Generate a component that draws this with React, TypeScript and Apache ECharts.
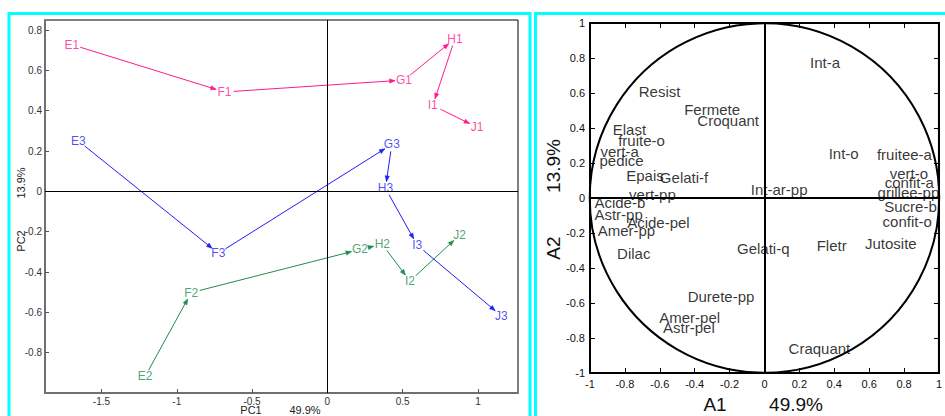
import { useEffect, useRef } from 'react';
import * as echarts from 'echarts';

const FONT = '"Liberation Sans", Arial, Helvetica, sans-serif';

// ---- Left panel: PCA trajectories ----
const traj1Labels = ['E1', 'F1', 'G1', 'H1', 'I1', 'J1'];
const traj1X = [-1.697, -0.683, 0.509, 0.847, 0.7, 0.995];
const traj1Y = [0.728, 0.493, 0.552, 0.757, 0.426, 0.318];

const traj2Labels = ['E2', 'F2', 'G2', 'H2', 'I2', 'J2'];
const traj2X = [-1.21, -0.904, 0.217, 0.365, 0.548, 0.878];
const traj2Y = [-0.918, -0.502, -0.288, -0.263, -0.445, -0.217];

const traj3Labels = ['E3', 'F3', 'G3', 'H3', 'I3', 'J3'];
const traj3X = [-1.653, -0.724, 0.428, 0.386, 0.597, 1.155];
const traj3Y = [0.25, -0.307, 0.233, 0.015, -0.267, -0.617];

const pcXTicks = [-1.5, -1, -0.5, 0, 0.5, 1];
const pcYTicks = [-0.8, -0.6, -0.4, -0.2, 0, 0.2, 0.4, 0.6, 0.8];

// ---- Right panel: correlation circle ----
const varNames = [
  'Int-a', 'Resist', 'Fermete', 'Croquant', 'Elast', 'fruite-o', 'vert-a', 'pedice',
  'Epais', 'Gelati-f', 'vert-pp', 'Int-ar-pp', 'Int-o', 'fruitee-a', 'vert-o', 'confit-a',
  'grillee-pp', 'Sucre-b', 'confit-o', 'Acide-b', 'Astr-pp', 'Acide-pel', 'Amer-pp', 'Dilac',
  'Gelati-q', 'Fletr', 'Jutosite', 'Durete-pp', 'Amer-pel', 'Astr-pel', 'Craquant',
];
const varA1 = [
  0.347, -0.601, -0.3, -0.208, -0.774, -0.705, -0.83, -0.819,
  -0.685, -0.461, -0.642, 0.084, 0.454, 0.802, 0.828, 0.83,
  0.825, 0.837, 0.818, -0.829, -0.836, -0.608, -0.791, -0.749,
  -0.007, 0.385, 0.724, -0.249, -0.429, -0.433, 0.315,
];
const varA2 = [
  0.773, 0.609, 0.504, 0.444, 0.393, 0.331, 0.267, 0.213,
  0.13, 0.118, 0.021, 0.047, 0.253, 0.248, 0.138, 0.087,
  0.03, -0.047, -0.136, -0.027, -0.093, -0.142, -0.186, -0.318,
  -0.289, -0.273, -0.262, -0.562, -0.68, -0.739, -0.861,
];

const PINK = '#FF1A8C';
const GREEN = '#1E8C4E';
const BLUE = '#1F1FF5';
const CYAN = '#00FFFF';

function segments(xs: number[], ys: number[]) {
  const out: number[][] = [];
  for (let i = 0; i < xs.length - 1; i++) out.push([xs[i], ys[i], xs[i + 1], ys[i + 1]]);
  return out;
}

function arrowRenderer(color: string) {
  return (_params: any, api: any) => {
    const p1 = api.coord([api.value(0), api.value(1)]);
    const p2 = api.coord([api.value(2), api.value(3)]);
    const dx = p2[0] - p1[0];
    const dy = p2[1] - p1[1];
    const len = Math.hypot(dx, dy) || 1;
    const ux = dx / len;
    const uy = dy / len;
    const rx = 9;
    const ry = 7;
    const s = 1 / Math.sqrt((ux / rx) ** 2 + (uy / ry) ** 2);
    const a = [p1[0] + ux * s, p1[1] + uy * s];
    const b = [p2[0] - ux * s, p2[1] - uy * s];
    const hl = 5.5;
    const hw = 2.2;
    const base = [b[0] - ux * hl, b[1] - uy * hl];
    const nx = -uy;
    const ny = ux;
    return {
      type: 'group',
      children: [
        {
          type: 'line',
          shape: { x1: a[0], y1: a[1], x2: b[0], y2: b[1] },
          style: { stroke: color, lineWidth: 1 },
        },
        {
          type: 'polygon',
          shape: {
            points: [
              b,
              [base[0] + nx * hw, base[1] + ny * hw],
              [base[0] - nx * hw, base[1] - ny * hw],
            ],
          },
          style: { fill: color, stroke: color, lineWidth: 0.5 },
        },
      ],
    };
  };
}

function arrowSeries(xs: number[], ys: number[], color: string) {
  return {
    type: 'custom',
    xAxisIndex: 0,
    yAxisIndex: 0,
    renderItem: arrowRenderer(color),
    encode: { x: [0, 2], y: [1, 3] },
    data: segments(xs, ys),
    silent: true,
    z: 3,
  };
}

function labelSeries(names: string[], xs: number[], ys: number[], color: string, extra: any = {}) {
  return {
    type: 'scatter',
    xAxisIndex: 0,
    yAxisIndex: 0,
    symbolSize: 0,
    silent: true,
    z: 4,
    data: names.map((n, i) => ({ name: n, value: [xs[i], ys[i]] })),
    label: {
      show: true,
      position: 'inside',
      formatter: '{b}',
      color,
      fontSize: 12,
      fontFamily: FONT,
    },
    ...extra,
  };
}

export default function App() {
  const ref = useRef<HTMLDivElement>(null);

  useEffect(() => {
    if (!ref.current) return;
    const chart = echarts.init(ref.current, undefined, { renderer: 'svg' });

    const leftAxisCommon = {
      axisLine: { show: true, onZero: false, lineStyle: { color: '#707070', width: 2 } },
      splitLine: { show: false },
    };

    const option: any = {
      animation: false,
      backgroundColor: '#ffffff',
      grid: [
        { left: 45, top: 20, width: 473, height: 373, show: true, borderColor: '#000', borderWidth: 1, backgroundColor: 'transparent' },
        { left: 590, top: 23, width: 352, height: 350, show: true, borderColor: '#000', borderWidth: 2, backgroundColor: 'transparent' },
      ],
      xAxis: [
        {
          gridIndex: 0,
          type: 'value',
          min: -1.875,
          max: 1.266,
          ...leftAxisCommon,
          axisTick: { show: true, inside: true, length: 4, customValues: pcXTicks, lineStyle: { color: '#555' } },
          axisLabel: { customValues: pcXTicks, fontSize: 10, color: '#333', margin: 3, fontFamily: FONT },
        },
        {
          gridIndex: 1,
          type: 'value',
          min: -1,
          max: 1,
          interval: 0.2,
          axisLine: { show: true, onZero: false, lineStyle: { color: '#000', width: 2 } },
          axisTick: { show: true, inside: true, length: 5, lineStyle: { color: '#000' } },
          axisLabel: { fontSize: 11, color: '#111', margin: 5, fontFamily: FONT },
          splitLine: { show: false },
        },
        {
          gridIndex: 1,
          type: 'value',
          position: 'top',
          min: -1,
          max: 1,
          interval: 0.2,
          axisLine: { show: true, onZero: false, lineStyle: { color: '#000', width: 2 } },
          axisTick: { show: true, inside: true, length: 5, lineStyle: { color: '#000' } },
          axisLabel: { show: false },
          splitLine: { show: false },
        },
      ],
      yAxis: [
        {
          gridIndex: 0,
          type: 'value',
          min: -1,
          max: 0.85,
          ...leftAxisCommon,
          axisTick: { show: true, inside: true, length: 4, customValues: pcYTicks, lineStyle: { color: '#555' } },
          axisLabel: { customValues: pcYTicks, fontSize: 10, color: '#333', margin: 3, fontFamily: FONT },
        },
        {
          gridIndex: 1,
          type: 'value',
          min: -1,
          max: 1,
          interval: 0.2,
          axisLine: { show: true, onZero: false, lineStyle: { color: '#000', width: 2 } },
          axisTick: { show: true, inside: true, length: 5, lineStyle: { color: '#000' } },
          axisLabel: { fontSize: 11, color: '#111', margin: 5, fontFamily: FONT },
          splitLine: { show: false },
        },
        {
          gridIndex: 1,
          type: 'value',
          position: 'right',
          min: -1,
          max: 1,
          interval: 0.2,
          axisLine: { show: true, onZero: false, lineStyle: { color: '#000', width: 2 } },
          axisTick: { show: true, inside: true, length: 5, lineStyle: { color: '#000' } },
          axisLabel: { show: false },
          splitLine: { show: false },
        },
      ],
      series: [
        labelSeries([], [], [], '#000', {
          markLine: {
            silent: true,
            symbol: 'none',
            label: { show: false },
            lineStyle: { color: '#000', width: 1, type: 'solid' },
            data: [{ xAxis: 0 }, { yAxis: 0 }],
          },
          z: 2,
        }),
        arrowSeries(traj1X, traj1Y, PINK),
        arrowSeries(traj2X, traj2Y, GREEN),
        arrowSeries(traj3X, traj3Y, BLUE),
        labelSeries(traj1Labels, traj1X, traj1Y, PINK),
        labelSeries(traj2Labels, traj2X, traj2Y, GREEN),
        labelSeries(traj3Labels, traj3X, traj3Y, BLUE),
        {
          type: 'custom',
          xAxisIndex: 1,
          yAxisIndex: 1,
          silent: true,
          clip: false,
          data: [[0, 0]],
          renderItem: (_p: any, api: any) => {
            const c = api.coord([0, 0]);
            const s = api.size([1, 1]);
            return {
              type: 'circle',
              shape: { cx: c[0], cy: c[1], r: (s[0] + s[1]) / 2 },
              style: { fill: 'none', stroke: '#000', lineWidth: 2 },
            };
          },
          z: 2,
        },
        {
          type: 'scatter',
          xAxisIndex: 1,
          yAxisIndex: 1,
          symbolSize: 0,
          silent: true,
          z: 4,
          data: varNames.map((n, i) => ({ name: n, value: [varA1[i], varA2[i]] })),
          label: {
            show: true,
            position: 'inside',
            formatter: '{b}',
            color: '#000',
            fontSize: 15,
            fontFamily: FONT,
          },
          markLine: {
            silent: true,
            symbol: 'none',
            label: { show: false },
            lineStyle: { color: '#000', width: 2, type: 'solid' },
            data: [{ xAxis: 0 }, { yAxis: 0 }],
          },
        },
      ],
      graphic: [
        { type: 'rect', shape: { x: 9, y: 13.5, width: 521, height: 430 }, style: { fill: 'none', stroke: CYAN, lineWidth: 3 }, silent: true, z: 100 },
        { type: 'rect', shape: { x: 535.5, y: 13.5, width: 430, height: 430 }, style: { fill: 'none', stroke: CYAN, lineWidth: 3 }, silent: true, z: 100 },
        { type: 'text', x: 21, y: 241, rotation: Math.PI / 2, style: { text: 'PC2', fontSize: 11, fontFamily: FONT, fill: '#222', textAlign: 'center', textVerticalAlign: 'middle' } },
        { type: 'text', x: 21, y: 183, rotation: Math.PI / 2, style: { text: '13.9%', fontSize: 11, fontFamily: FONT, fill: '#222', textAlign: 'center', textVerticalAlign: 'middle' } },
        { type: 'text', x: 251, y: 410, style: { text: 'PC1', fontSize: 11, fontFamily: FONT, fill: '#222', textAlign: 'center', textVerticalAlign: 'middle' } },
        { type: 'text', x: 305, y: 410, style: { text: '49.9%', fontSize: 11, fontFamily: FONT, fill: '#222', textAlign: 'center', textVerticalAlign: 'middle' } },
        { type: 'text', x: 553, y: 166, rotation: Math.PI / 2, style: { text: '13.9%', fontSize: 19, fontFamily: FONT, fill: '#111', textAlign: 'center', textVerticalAlign: 'middle' } },
        { type: 'text', x: 553, y: 248, rotation: Math.PI / 2, style: { text: 'A2', fontSize: 19, fontFamily: FONT, fill: '#111', textAlign: 'center', textVerticalAlign: 'middle' } },
        { type: 'text', x: 715, y: 404, style: { text: 'A1', fontSize: 19, fontFamily: FONT, fill: '#111', textAlign: 'center', textVerticalAlign: 'middle' } },
        { type: 'text', x: 796, y: 404, style: { text: '49.9%', fontSize: 19, fontFamily: FONT, fill: '#111', textAlign: 'center', textVerticalAlign: 'middle' } },
      ],
    };

    chart.setOption(option);
    return () => {
      chart.dispose();
    };
  }, []);

  return (
    <div
      ref={ref}
      style={{ position: 'absolute', left: 0, top: 0, width: 945, height: 416, background: '#fff' }}
    />
  );
}
